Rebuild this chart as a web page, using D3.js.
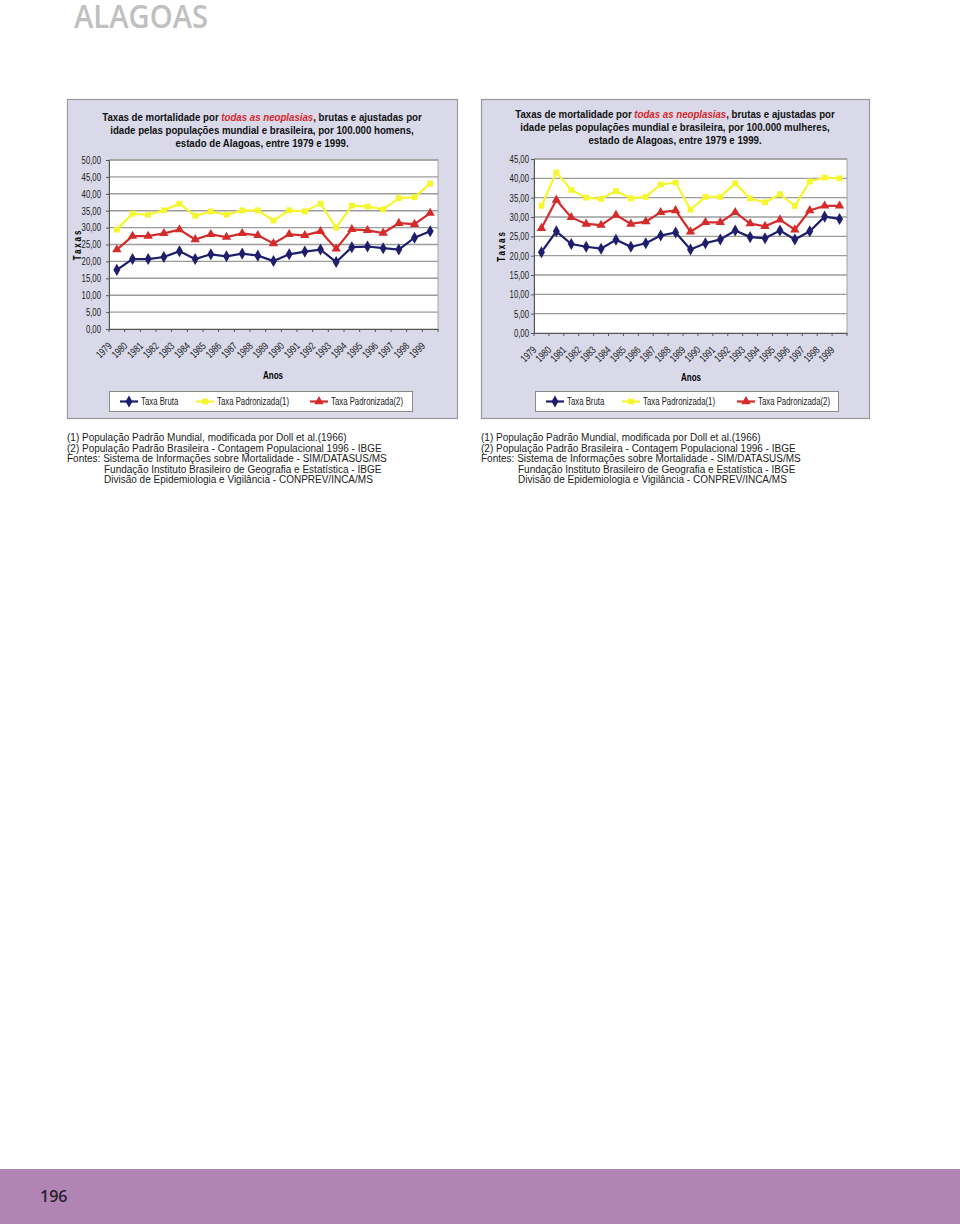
<!DOCTYPE html>
<html>
<head>
<meta charset="utf-8">
<script src="https://cdn.jsdelivr.net/npm/d3@7"></script>
<style>
  body { margin: 0; background: #fff; }
  svg { display: block; font-family: "Liberation Sans", Arial, sans-serif; }
</style>
</head>
<body>
<svg id="pagina" width="960" height="1224"></svg>
<script>
// anos do eixo x
const anos = ["1979", "1980", "1981", "1982", "1983", "1984", "1985", "1986", "1987", "1988",
  "1989", "1990", "1991", "1992", "1993", "1994", "1995", "1996", "1997", "1998", "1999"];

// homens
const homensBruta = [17.5, 20.7, 20.7, 21.3, 23.0, 20.7, 22.1, 21.5, 22.3, 21.7, 20.1,
  22.1, 22.9, 23.5, 19.8, 24.2, 24.4, 23.9, 23.5, 27.0, 28.9];
const homensPad1 = [29.4, 34.1, 33.8, 35.1, 37.1, 33.5, 34.8, 33.8, 35.1, 35.1, 32.1,
  35.1, 34.8, 37.1, 30.0, 36.5, 36.2, 35.4, 38.7, 39.0, 43.0];
const homensPad2 = [23.5, 27.5, 27.5, 28.3, 29.4, 26.5, 28.0, 27.2, 28.3, 27.7, 25.3,
  28.0, 27.7, 28.9, 23.7, 29.5, 29.2, 28.4, 31.3, 31.0, 34.3];

// mulheres
const mulheresBruta = [20.9, 26.3, 23.0, 22.3, 21.8, 24.1, 22.3, 23.2, 25.2, 26.0, 21.6,
  23.2, 24.2, 26.5, 24.8, 24.5, 26.5, 24.2, 26.3, 30.1, 29.5];
const mulheresPad1 = [32.9, 41.5, 37.0, 35.0, 34.7, 36.7, 34.8, 35.2, 38.4, 38.9, 31.9,
  35.2, 35.2, 38.7, 34.8, 33.8, 35.9, 32.9, 39.2, 40.2, 40.0];
const mulheresPad2 = [27.1, 34.4, 29.9, 28.2, 27.9, 30.5, 28.2, 28.8, 31.2, 31.7, 26.2,
  28.6, 28.6, 31.2, 28.3, 27.6, 29.3, 26.7, 31.7, 32.9, 32.9];

// ticks do eixo y
const ticksHomens = [0, 5, 10, 15, 20, 25, 30, 35, 40, 45, 50];
const ticksMulheres = [0, 5, 10, 15, 20, 25, 30, 35, 40, 45];

const nomesSeries = ["Taxa Bruta", "Taxa Padronizada(1)", "Taxa Padronizada(2)"];

const notas = [
  "(1) População Padrão Mundial, modificada por Doll et al.(1966)",
  "(2) População Padrão Brasileira - Contagem Populacional 1996 - IBGE",
  "Fontes: Sistema de Informações sobre Mortalidade - SIM/DATASUS/MS",
  "Fundação Instituto Brasileiro de Geografia e Estatística - IBGE",
  "Divisão de Epidemiologia e Vigilância - CONPREV/INCA/MS"
];

const cores = ["#1e1e6c", "#f6f62e", "#d42b2b"];
const simbolos = [d3.symbolDiamond, d3.symbolSquare, d3.symbolTriangle];
const tamanhos = [42, 34, 38];

const svg = d3.select("#pagina");

// cabecalho
svg.append("text")
  .attr("x", 74).attr("y", 28)
  .style("font-family", "'Open Sans', sans-serif")
  .attr("font-weight", 600)
  .attr("font-size", 33)
  .attr("textLength", 134)
  .attr("lengthAdjust", "spacingAndGlyphs")
  .attr("fill", "#c0c0c0")
  .text("ALAGOAS");

// rodape roxo
svg.append("rect").attr("x", 0).attr("y", 1169).attr("width", 960).attr("height", 55).attr("fill", "#b085b4");
svg.append("text")
  .attr("x", 40).attr("y", 1202)
  .style("font-family", "'Open Sans', sans-serif")
  .attr("font-weight", 600)
  .attr("font-size", 16)
  .attr("fill", "#2a1f2d")
  .text("196");

// texto estreito (arial narrow nao existe aqui)
function estreito(g, x, y, k, texto) {
  return g.append("text")
    .attr("transform", `translate(${x},${y}) scale(${k},1)`)
    .text(texto);
}

function grafico(cfg) {
  const g = svg.append("g");

  // fundo do grafico
  g.append("rect")
    .attr("x", cfg.frame.x + 0.5).attr("y", cfg.frame.y + 0.5)
    .attr("width", cfg.frame.w).attr("height", cfg.frame.h)
    .attr("fill", "#d9d9e9").attr("stroke", "#9a9a9a").attr("stroke-width", 1.2);

  // titulo
  const cx = cfg.frame.x + cfg.frame.w / 2;
  cfg.titulo.forEach((linha, i) => {
    const t = g.append("text")
      .attr("transform", `translate(${cx},${cfg.tituloY[i]}) scale(0.82,1)`)
      .attr("text-anchor", "middle")
      .attr("font-weight", "bold")
      .attr("font-size", 11.8)
      .attr("fill", "#111");
    if (i === 0) {
      t.append("tspan").text("Taxas de mortalidade por ");
      t.append("tspan").attr("fill", "#d8262b").attr("font-style", "italic").text("todas as neoplasias");
      t.append("tspan").text(", brutas e ajustadas por");
    } else {
      t.text(linha);
    }
  });

  const p = cfg.plot;
  const x = d3.scaleBand().domain(anos).range([p.x, p.x + p.w]);
  const y = d3.scaleLinear().domain([0, cfg.ymax]).range([p.y + p.h, p.y]);

  g.append("rect")
    .attr("x", p.x).attr("y", p.y).attr("width", p.w).attr("height", p.h)
    .attr("fill", "#fff").attr("stroke", "#a5a5a5");

  // grade
  g.append("g").selectAll("line").data(cfg.ticks.slice(1)).join("line")
    .attr("x1", p.x).attr("x2", p.x + p.w)
    .attr("y1", d => y(d)).attr("y2", d => y(d))
    .attr("stroke", "#9c9c9c").attr("stroke-width", 1.4);

  // eixo y
  const eixoY = g.append("g")
    .attr("transform", `translate(${p.x},0)`)
    .call(d3.axisLeft(y).tickValues(cfg.ticks).tickSize(3)
      .tickFormat(d => d.toFixed(2).replace(".", ",")));
  eixoY.select(".domain").attr("stroke", "#555");
  eixoY.selectAll(".tick line").attr("stroke", "#555");
  eixoY.selectAll("text")
    .attr("x", null)
    .attr("transform", `translate(${-cfg.pad},0) scale(0.74,1)`)
    .attr("font-family", null)
    .attr("font-size", 10.5).attr("fill", "#222");

  // eixo x
  const eixoX = g.append("g")
    .attr("transform", `translate(0,${p.y + p.h})`)
    .call(d3.axisBottom(x).tickSize(0).tickPadding(0));
  eixoX.attr("font-family", null);
  eixoY.attr("font-family", null);
  eixoX.select(".domain").attr("stroke", "#555");
  eixoX.selectAll(".tick text")
    .attr("font-size", 10.5)
    .attr("fill", "#222")
    .attr("text-anchor", "end")
    .attr("transform", "translate(-7,15) rotate(-45) scale(0.74,1)")
    .attr("dy", "0.35em")
    .attr("y", 0);
  eixoX.append("g").selectAll("line").data(anos.concat(["fim"])).join("line")
    .attr("x1", d => d === "fim" ? p.x + p.w : x(d))
    .attr("x2", d => d === "fim" ? p.x + p.w : x(d))
    .attr("y1", 0).attr("y2", 3)
    .attr("stroke", "#555");

  // rotulos dos eixos
  g.append("text")
    .attr("font-weight", "bold").attr("font-size", 10).attr("letter-spacing", 2.4)
    .attr("text-anchor", "middle")
    .attr("transform", `translate(${cfg.taxasX},${p.y + p.h / 2}) rotate(-90) scale(0.8,1)`)
    .text("Taxas");
  estreito(g, cfg.anosX, cfg.anosY, 0.8, "Anos")
    .attr("font-weight", "bold").attr("font-size", 10)
    .attr("text-anchor", "middle");

  // series
  const linha = d3.line().x((d, i) => x(anos[i]) + x.bandwidth() / 2).y(d => y(d));
  cfg.series.forEach((serie, s) => {
    g.append("path").datum(serie)
      .attr("d", linha)
      .attr("fill", "none").attr("stroke", cores[s]).attr("stroke-width", 2.2);
  });
  cfg.series.forEach((serie, s) => {
    g.append("g").selectAll("path").data(serie).join("path")
      .attr("d", d3.symbol().type(simbolos[s]).size(tamanhos[s]))
      .attr("transform", (d, i) => `translate(${x(anos[i]) + x.bandwidth() / 2},${y(d)})`)
      .attr("fill", cores[s]);
  });

  // legenda
  const L = cfg.legenda;
  g.append("rect")
    .attr("x", L.x + 0.5).attr("y", L.y + 0.5).attr("width", L.w).attr("height", L.h)
    .attr("fill", "#fff").attr("stroke", "#8a8a8a");
  nomesSeries.forEach((nome, s) => {
    const lx = L.itens[s];
    const ly = L.y + L.h / 2 + 0.5;
    g.append("line")
      .attr("x1", lx).attr("x2", lx + 18).attr("y1", ly).attr("y2", ly)
      .attr("stroke", cores[s]).attr("stroke-width", 2.2);
    g.append("path")
      .attr("d", d3.symbol().type(simbolos[s]).size(tamanhos[s]))
      .attr("transform", `translate(${lx + 9},${ly})`)
      .attr("fill", cores[s]);
    estreito(g, lx + 21, ly + 3.6, 0.76, nome)
      .attr("font-size", 10.3).attr("fill", "#222");
  });

  // notas
  const n = g.append("g")
    .attr("font-size", 10).attr("fill", "#222");
  notas.forEach((nota, i) => {
    n.append("text")
      .attr("x", cfg.frame.x + (i > 2 ? 37 : 0))
      .attr("y", 441 + i * 10.5)
      .text(nota);
  });
}

grafico({
  frame: { x: 67, y: 99, w: 390, h: 319 },
  plot: { x: 109, y: 160, w: 329, h: 169 },
  ymax: 50,
  ticks: ticksHomens,
  pad: 8,
  titulo: ["", "idade pelas populações mundial e brasileira, por 100.000 homens,", "estado de Alagoas, entre 1979 e 1999."],
  tituloY: [121, 134, 147],
  series: [homensBruta, homensPad1, homensPad2],
  taxasX: 81,
  anosX: 273,
  anosY: 378.5,
  legenda: { x: 109, y: 391, w: 303, h: 20, itens: [120, 196, 310] }
});

grafico({
  frame: { x: 481, y: 99, w: 388, h: 319 },
  plot: { x: 534, y: 159, w: 313, h: 174 },
  ymax: 45,
  ticks: ticksMulheres,
  pad: 5,
  titulo: ["", "idade pelas populações mundial e brasileira, por 100.000 mulheres,", "estado de Alagoas, entre 1979 e 1999."],
  tituloY: [118, 131, 144],
  series: [mulheresBruta, mulheresPad1, mulheresPad2],
  taxasX: 505,
  anosX: 691,
  anosY: 380.5,
  legenda: { x: 535, y: 391, w: 303, h: 20, itens: [546, 622, 737] }
});
</script>
</body>
</html>
